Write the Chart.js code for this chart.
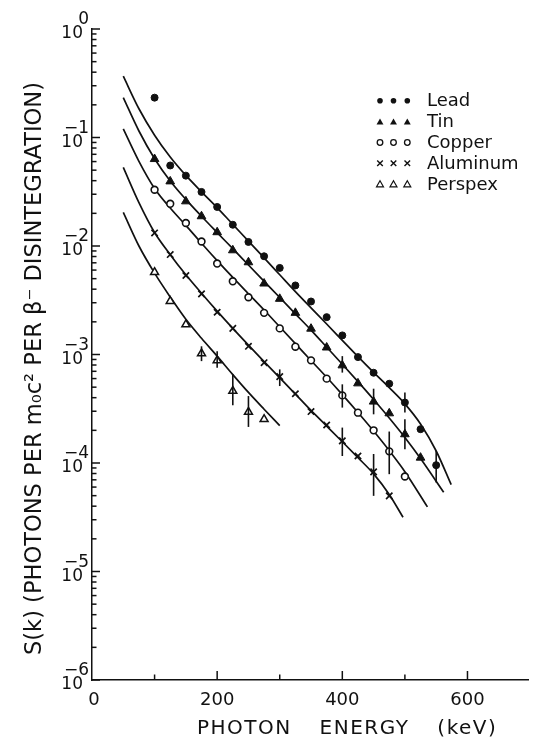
<!DOCTYPE html>
<html>
<head>
<meta charset="utf-8">
<script src="https://cdn.jsdelivr.net/npm/chart.js@4.4.1/dist/chart.umd.min.js"></script>
<style>
  html, body { margin: 0; padding: 0; background: #ffffff; }
  #wrap { width: 535px; height: 742px; }
</style>
</head>
<body>
<div id="wrap"><canvas id="c" width="535" height="742"></canvas></div>
<script>
// ---------- measured points: photon energy (keV) and S(k) ----------
const leadX = [100,125,150,175,200,225,250,275,300,325,350,375,400,425,450,475,500,525,550];
const leadY = [0.233,0.0552,0.0445,0.0315,0.0229,0.0157,0.0109,0.00804,0.00628,0.00433,0.00308,0.00221,0.00150,9.46e-4,6.79e-4,5.38e-4,3.61e-4,2.05e-4,9.55e-5];

const tinX = [100,125,150,175,200,225,250,275,300,325,350,375,400,425,450,475,500,525];
const tinY = [0.0633,0.0394,0.0258,0.0188,0.0134,0.00913,0.00708,0.00451,0.00326,0.00242,0.00173,0.00116,7.94e-4,5.42e-4,3.68e-4,2.87e-4,1.84e-4,1.12e-4];

const copperX = [100,125,150,175,200,225,250,275,300,325,350,375,400,425,450,475,500];
const copperY = [0.0330,0.0245,0.0163,0.0110,0.00689,0.00473,0.00337,0.00242,0.00174,0.00118,8.83e-4,5.99e-4,4.20e-4,2.91e-4,2.00e-4,1.28e-4,7.51e-5];

const aluminumX = [100,125,150,175,200,225,250,275,300,325,350,375,400,425,450,475];
const aluminumY = [0.0132,0.00834,0.00535,0.00362,0.00245,0.00174,0.00119,8.41e-4,6.25e-4,4.35e-4,2.98e-4,2.24e-4,1.60e-4,1.16e-4,8.28e-5,4.98e-5];

const perspexX = [100,125,150,175,200,225,250,275];
const perspexY = [0.00573,0.00310,0.00189,0.00102,8.83e-4,4.61e-4,2.95e-4,2.53e-4];

// ---------- error bars (energy, low, high) ----------
const leadErrX = [500,550];         const leadErrLo = [2.92e-4,6.62e-5];   const leadErrHi = [4.46e-4,1.29e-4];
const tinErrX = [400,450,500];      const tinErrLo = [6.81e-4,2.81e-4,1.34e-4]; const tinErrHi = [9.66e-4,4.84e-4,2.53e-4];
const copperErrX = [400,475];       const copperErrLo = [3.24e-4,7.89e-5]; const copperErrHi = [5.31e-4,1.95e-4];
const aluminumErrX = [300,400,450]; const aluminumErrLo = [5.12e-4,1.16e-4,4.98e-5]; const aluminumErrHi = [7.29e-4,2.12e-4,1.21e-4];
const perspexErrX = [175,200,225,250]; const perspexErrLo = [8.69e-4,7.55e-4,3.40e-4,2.15e-4]; const perspexErrHi = [1.19e-3,1.07e-3,6.56e-4,4.14e-4];

// ---------- theoretical curves ----------
const leadCurveX = [50,75,100,125,150,175,200,225,250,275,300,325,350,375,400,425,450,475,500,525,550,574];
const leadCurveY = [0.367,0.184,0.105,0.0661,0.0447,0.0316,0.0226,0.0158,0.0111,0.00776,0.00543,0.00380,0.00269,0.00191,0.00135,9.55e-4,6.84e-4,4.95e-4,3.51e-4,2.29e-4,1.29e-4,6.31e-5];
const tinCurveX = [50,75,100,125,150,175,200,225,250,275,300,325,350,375,400,425,450,475,500,525,562];
const tinCurveY = [0.233,0.1148,0.0638,0.0398,0.0269,0.0188,0.0133,0.00944,0.00668,0.00473,0.00335,0.00237,0.00168,0.00117,8.13e-4,5.62e-4,3.85e-4,2.60e-4,1.72e-4,1.10e-4,5.37e-5];
const copperCurveX = [50,75,100,125,150,175,200,225,250,275,300,325,350,375,400,425,450,475,500,536];
const copperCurveY = [0.120,0.0603,0.0339,0.0224,0.0155,0.0106,0.00733,0.00513,0.00363,0.00257,0.00180,0.00126,8.81e-4,6.17e-4,4.27e-4,2.92e-4,1.97e-4,1.30e-4,8.32e-5,3.94e-5];
const aluminumCurveX = [50,75,100,125,150,175,200,225,250,275,300,325,350,375,400,425,450,475,497];
const aluminumCurveY = [0.0530,0.0251,0.0133,0.00832,0.00543,0.00367,0.00251,0.00174,0.00122,8.61e-4,6.10e-4,4.32e-4,3.05e-4,2.19e-4,1.57e-4,1.12e-4,7.94e-5,5.13e-5,3.16e-5];
const perspexCurveX = [50,75,100,125,150,175,200,225,250,275,300];
const perspexCurveY = [0.0204,0.0100,0.00562,0.00339,0.00211,0.00141,9.66e-4,6.53e-4,4.47e-4,3.13e-4,2.21e-4];

// ---------- axes ----------
const xTickLabels = [0,200,400,600];
const xMinorTicks = [100,300,500];
const yTickExponents = [0,-1,-2,-3,-4,-5,-6];
const yMinorMultipliers = [2,3,4,5,6,7,8,9];
const seriesNames = ['Lead','Tin','Copper','Aluminum','Perspex'];
const xTitle = 'PHOTON ENERGY (keV)';
const yTitle = 'S(k) (PHOTONS PER m\u2080c\u00B2 PER \u03B2\u207B DISINTEGRATION)';

const FONT = '"DejaVu Sans", sans-serif';
const INK = '#111111';

function pts(xs, ys) { return xs.map((x, i) => ({ x: x, y: ys[i] })); }

function curve(xs, ys) {
  return { type: 'line', data: pts(xs, ys), borderColor: INK, borderWidth: 1.7,
    pointRadius: 0, fill: false, cubicInterpolationMode: 'monotone', order: 2 };
}
function marks(xs, ys, style, filled, radius, bw) {
  return { type: 'line', data: pts(xs, ys), showLine: false, pointStyle: style,
    pointRadius: radius, pointBorderColor: INK, pointBackgroundColor: filled ? INK : '#ffffff',
    pointBorderWidth: bw, borderColor: INK, order: 1 };
}

const errorBars = [
  [leadErrX, leadErrLo, leadErrHi], [tinErrX, tinErrLo, tinErrHi],
  [copperErrX, copperErrLo, copperErrHi], [aluminumErrX, aluminumErrLo, aluminumErrHi],
  [perspexErrX, perspexErrLo, perspexErrHi]
];

function legendMarker(ctx, kind, x, y) {
  ctx.save();
  ctx.strokeStyle = INK; ctx.fillStyle = INK;
  ctx.beginPath();
  if (kind === 0) { ctx.arc(x, y, 2.8, 0, Math.PI * 2); ctx.fill(); }
  else if (kind === 1 || kind === 4) {
    const r = 4;
    for (let k = 0; k < 3; k++) {
      const a = k * 2 * Math.PI / 3;
      const px = x + Math.sin(a) * r, py = y - Math.cos(a) * r + 0.8;
      if (k === 0) ctx.moveTo(px, py); else ctx.lineTo(px, py);
    }
    ctx.closePath();
    if (kind === 1) ctx.fill(); else { ctx.lineWidth = 1.2; ctx.stroke(); }
  }
  else if (kind === 2) { ctx.lineWidth = 1.3; ctx.arc(x, y, 2.8, 0, Math.PI * 2); ctx.stroke(); }
  else if (kind === 3) {
    ctx.lineWidth = 1.4; const r = 2.8;
    ctx.moveTo(x - r, y - r); ctx.lineTo(x + r, y + r);
    ctx.moveTo(x + r, y - r); ctx.lineTo(x - r, y + r); ctx.stroke();
  }
  ctx.restore();
}

const decor = {
  id: 'decor',
  afterDatasetsDraw(chart) {
    const ctx = chart.ctx, xs = chart.scales.x, ys = chart.scales.y;
    ctx.save();
    ctx.strokeStyle = INK; ctx.lineWidth = 1.6;
    errorBars.forEach(([ex, lo, hi]) => {
      ex.forEach((e, i) => {
        const px = xs.getPixelForValue(e);
        ctx.beginPath();
        ctx.moveTo(px, ys.getPixelForValue(lo[i]));
        ctx.lineTo(px, ys.getPixelForValue(hi[i]));
        ctx.stroke();
      });
    });
    ctx.restore();
  },
  afterDraw(chart) {
    const ctx = chart.ctx, xs = chart.scales.x, ys = chart.scales.y;
    const left = chart.chartArea.left, bottom = chart.chartArea.bottom;
    ctx.save();
    ctx.strokeStyle = INK; ctx.fillStyle = INK; ctx.lineWidth = 1.5;
    // y ticks (inside)
    yTickExponents.forEach(e => {
      const py = ys.getPixelForValue(Math.pow(10, e));
      ctx.beginPath(); ctx.moveTo(left, py); ctx.lineTo(left + 8, py); ctx.stroke();
      if (e > -6) {
        yMinorMultipliers.forEach(m => {
          const q = ys.getPixelForValue(m * Math.pow(10, e - 1));
          ctx.beginPath(); ctx.moveTo(left, q); ctx.lineTo(left + 4.5, q); ctx.stroke();
        });
      }
      ctx.font = '17px ' + FONT;
      ctx.textAlign = 'right'; ctx.textBaseline = 'alphabetic';
      ctx.fillText('10', 83, py + 9);
      ctx.fillText(e === 0 ? '0' : '\u2212' + Math.abs(e), 89, py - 5);
    });
    // x ticks (inside)
    xTickLabels.forEach(v => {
      const px = xs.getPixelForValue(v);
      if (v !== 0) { ctx.beginPath(); ctx.moveTo(px, bottom); ctx.lineTo(px, bottom - 9); ctx.stroke(); }
      ctx.font = '18px ' + FONT; ctx.textAlign = 'center'; ctx.textBaseline = 'alphabetic';
      ctx.fillText(String(v), px + (v === 0 ? 2 : 0), bottom + 25);
    });
    xMinorTicks.forEach(v => {
      const px = xs.getPixelForValue(v);
      ctx.beginPath(); ctx.moveTo(px, bottom); ctx.lineTo(px, bottom - 5.5); ctx.stroke();
    });
    // x title
    ctx.font = '20px ' + FONT; ctx.textAlign = 'left';
    ctx.letterSpacing = '1.5px'; ctx.wordSpacing = '20px';
    ctx.fillText(xTitle, 197, 734);
    ctx.letterSpacing = '0px'; ctx.wordSpacing = '0px';
    // y title
    ctx.save();
    ctx.translate(41, 655); ctx.rotate(-Math.PI / 2);
    ctx.font = '23px ' + FONT; ctx.textAlign = 'left';
    ctx.fillText(yTitle, 0, 0, 573);
    ctx.restore();
    // legend
    const rowY = [100.7, 121.7, 142.5, 163.3, 184];
    seriesNames.forEach((name, i) => {
      [380, 393.5, 407.3].forEach(mx => legendMarker(ctx, i, mx, rowY[i]));
      ctx.font = '18px ' + FONT; ctx.textAlign = 'left';
      ctx.fillText(name, 427, rowY[i] + 5.5);
    });
    ctx.restore();
  }
};

new Chart(document.getElementById('c'), {
  type: 'line',
  data: {
    datasets: [
      curve(leadCurveX, leadCurveY),
      curve(tinCurveX, tinCurveY),
      curve(copperCurveX, copperCurveY),
      curve(aluminumCurveX, aluminumCurveY),
      curve(perspexCurveX, perspexCurveY),
      Object.assign(marks(leadX, leadY, 'circle', true, 3.5, 1), { label: seriesNames[0] }),
      Object.assign(marks(tinX, tinY, 'triangle', true, 5, 1), { label: seriesNames[1] }),
      Object.assign(marks(copperX, copperY, 'circle', false, 3.4, 1.6), { label: seriesNames[2] }),
      Object.assign(marks(aluminumX, aluminumY, 'crossRot', false, 4.5, 1.7), { label: seriesNames[3] }),
      Object.assign(marks(perspexX, perspexY, 'triangle', false, 4.6, 1.5), { label: seriesNames[4] })
    ]
  },
  options: {
    responsive: false, animation: false, events: [],
    layout: { padding: { top: 29, right: 0, bottom: 0, left: 0 } },
    plugins: { legend: { display: false }, tooltip: { enabled: false } },
    scales: {
      x: {
        type: 'linear', min: 0, max: 698,
        grid: { display: false },
        border: { display: true, color: INK, width: 1.5 },
        ticks: { display: false },
        afterFit(s) { s.height = 62; }
      },
      y: {
        type: 'logarithmic', min: 1e-6, max: 1,
        grid: { display: false },
        border: { display: true, color: INK, width: 1.5 },
        ticks: { display: false },
        afterFit(s) { s.width = 92; }
      }
    }
  },
  plugins: [decor]
});
</script>
</body>
</html>
